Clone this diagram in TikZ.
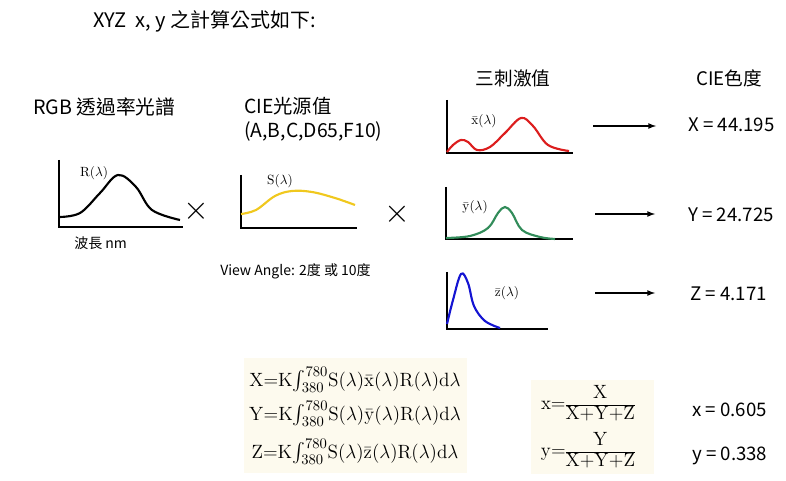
\documentclass[tikz,border=0pt]{standalone}
\usepackage[no-math]{fontspec}
\usepackage{amsmath}
\setmainfont{Noto Sans CJK TC}
\definecolor{cream}{RGB}{253,250,238}
\definecolor{xred}{RGB}{220,30,30}
\definecolor{ygreen}{RGB}{50,140,90}
\definecolor{zblue}{RGB}{20,20,210}
\definecolor{syellow}{RGB}{240,200,30}
\newcommand{\chromfrac}[2]{\renewcommand{\arraystretch}{0.85}\begin{array}{@{}c@{}}#1\\\hline#2\end{array}}
\tikzset{
  txt/.style={anchor=west,inner sep=0pt,font=\fontsize{14}{16}\selectfont},
  small/.style={anchor=west,inner sep=0pt,font=\fontsize{10.5}{12}\selectfont},
  axis/.style={black,line width=0.9pt},
  curve/.style={line width=1.6pt,smooth,tension=0.6},
  lbl/.style={inner sep=0pt,font=\fontsize{10}{11}\selectfont},
  times/.style={inner sep=0pt,font=\fontsize{26}{28}\selectfont},
  res/.style={-latex,line width=1pt},
  formula/.style={inner sep=0pt,font=\fontsize{15}{18}\selectfont}
}
\begin{document}
\begin{tikzpicture}[x=0.75pt,y=-0.75pt]
	\useasboundingbox (0,0) rectangle (786,481);
	% headings
	\node[txt,font=\fontsize{15}{17}\selectfont] (title) at (93,21) {XYZ\ \ x, y 之計算公式如下:};
	\node[txt,font=\fontsize{14.8}{17}\selectfont] (rgb) at (33,107) {RGB 透過率光譜};
	\node[txt,font=\fontsize{14.5}{17}\selectfont] (cie) at (244,106) {CIE光源值};
	\node[txt,font=\fontsize{14.5}{17}\selectfont] (ill) at (244,131) {(A,B,C,D65,F10)};
	\node[txt,anchor=center] (tri) at (513,78) {三刺激值};
	\node[txt,anchor=center] (chrom) at (729,78) {CIE色度};
	% R curve
	\draw[axis] (59,160) -- (59,227) -- (183,227);
	\draw[curve,black] plot coordinates {(59,217) (80,213) (100,193) (118,175) (136,187) (152,210) (180,220)};
	\node[lbl] (rl) at (94,173) {$\mathrm{R}(\lambda)$};
	\node[small] (wl) at (74,243) {波長 nm};
	\node[times] (m1) at (196,211) {$\times$};
	% S curve
	\draw[axis] (241,175) -- (241,228) -- (357,228);
	\draw[curve,syellow] plot coordinates {(241,214) (256,210) (275,196) (292,191) (312,192) (335,198) (355,205)};
	\node[lbl] (sl) at (280,181) {$\mathrm{S}(\lambda)$};
	\node[times] (m2) at (397,214) {$\times$};
	\node[small] (va) at (220,271) {View Angle: 2度 或 10度};
	% x bar curve
	\draw[axis] (447,100) -- (447,153) -- (573,153);
	\draw[curve,xred] plot coordinates {(447,152) (453,145) (461,140) (468,142) (477,150) (490,147) (505,133) (521,118) (533,126) (548,145) (569,151)};
	\node[lbl] (xl) at (484,121) {$\bar{\mathrm{x}}(\lambda)$};
	% y bar curve
	\draw[axis] (446,187) -- (446,239) -- (573,239);
	\draw[curve,ygreen] plot coordinates {(446,238) (470,236) (488,228) (498,213) (505,207) (512,213) (522,230) (540,237) (555,239)};
	\node[lbl] (yl) at (475,207) {$\bar{\mathrm{y}}(\lambda)$};
	% z bar curve
	\draw[axis] (447,272) -- (447,329) -- (548,329);
	\draw[curve,zblue] plot coordinates {(447,324) (453,300) (461,274) (468,283) (474,306) (485,321) (500,328)};
	\node[lbl] (zl) at (507,293) {$\bar{\mathrm{z}}(\lambda)$};
	% results
	\node[txt] (X) at (688,125) {X = 44.195};
	\node[txt] (Y) at (688,215) {Y = 24.725};
	\node[txt] (Z) at (690,294) {Z = 4.171};
	\coordinate (ax) at (593,126);
	\coordinate (ay) at (595,214);
	\coordinate (az) at (595,293);
	\draw[res,shorten >=32pt*0.75] (ax) -- (X.west |- ax);
	\draw[res,shorten >=33pt*0.75] (ay) -- (Y.west |- ay);
	\draw[res,shorten >=35pt*0.75] (az) -- (Z.west |- az);
	% formulas
	\fill[cream] (244,358) rectangle (467,473);
	\fill[cream] (531,380) rectangle (654,474);
	\node[formula] (fx) at (355,380)
		{$\mathrm{X{=}K}\!\int_{380}^{780}\!\mathrm{S}(\lambda)\bar{\mathrm{x}}(\lambda)\mathrm{R}(\lambda)\mathrm{d}\lambda$};
	\node[formula] (fy) at (355,414)
		{$\mathrm{Y{=}K}\!\int_{380}^{780}\!\mathrm{S}(\lambda)\bar{\mathrm{y}}(\lambda)\mathrm{R}(\lambda)\mathrm{d}\lambda$};
	\node[formula] (fz) at (355,452)
		{$\mathrm{Z{=}K}\!\int_{380}^{780}\!\mathrm{S}(\lambda)\bar{\mathrm{z}}(\lambda)\mathrm{R}(\lambda)\mathrm{d}\lambda$};
	\node[formula] (fxx) at (588,405)
		{$\mathrm{x}{=}\chromfrac{\mathrm{X}}{\mathrm{X{+}Y{+}Z}}$};
	\node[formula] (fyy) at (588,452)
		{$\mathrm{y}{=}\chromfrac{\mathrm{Y}}{\mathrm{X{+}Y{+}Z}}$};
	\node[txt] (x) at (692,410) {x = 0.605};
	\node[txt] (y) at (692,456) {y = 0.338};
\end{tikzpicture}
\end{document}
